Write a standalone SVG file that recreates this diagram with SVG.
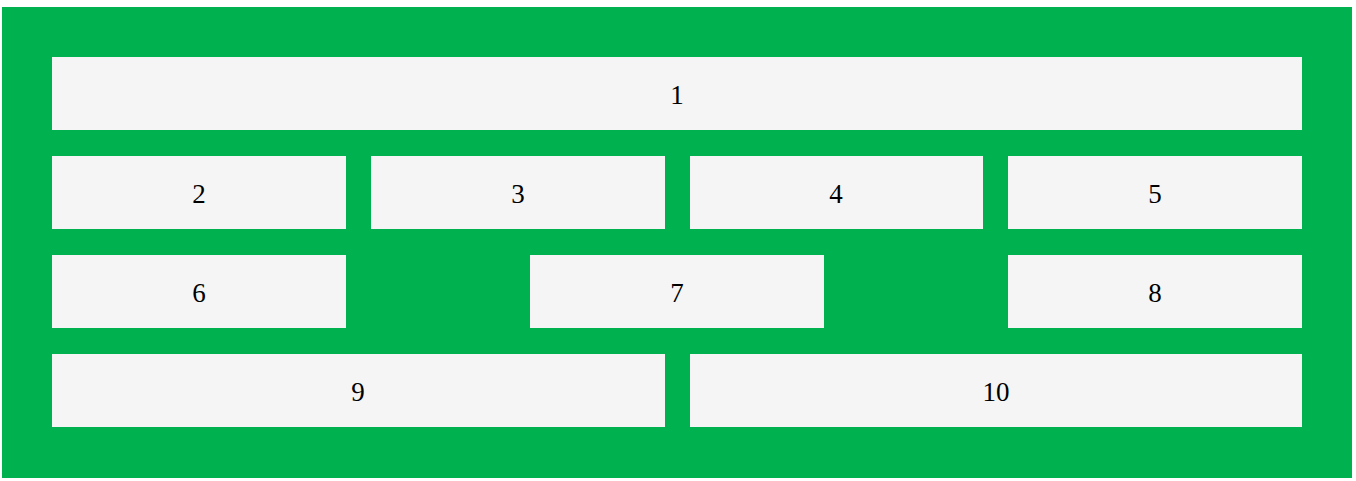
<svg xmlns="http://www.w3.org/2000/svg" width="1356" height="481" viewBox="0 0 1356 481">
<style>
.box{fill:#f5f5f5}
.lbl{font-family:"Liberation Serif","Times New Roman",serif;font-size:27px;fill:#000;text-anchor:middle}
</style>
<rect x="0" y="0" width="1356" height="481" fill="#ffffff"/>
<rect x="2" y="7" width="1350" height="471" fill="#00b14f"/>
<g id="n1"><rect class="box" x="52" y="57" width="1250" height="73"/><text class="lbl" x="677" y="104">1</text></g>
<g id="n2"><rect class="box" x="52" y="156" width="294" height="73"/><text class="lbl" x="199" y="203">2</text></g>
<g id="n3"><rect class="box" x="371" y="156" width="294" height="73"/><text class="lbl" x="518" y="203">3</text></g>
<g id="n4"><rect class="box" x="690" y="156" width="293" height="73"/><text class="lbl" x="836" y="203">4</text></g>
<g id="n5"><rect class="box" x="1008" y="156" width="294" height="73"/><text class="lbl" x="1155" y="203">5</text></g>
<g id="n6"><rect class="box" x="52" y="255" width="294" height="73"/><text class="lbl" x="199" y="302">6</text></g>
<g id="n7"><rect class="box" x="530" y="255" width="294" height="73"/><text class="lbl" x="677" y="302">7</text></g>
<g id="n8"><rect class="box" x="1008" y="255" width="294" height="73"/><text class="lbl" x="1155" y="302">8</text></g>
<g id="n9"><rect class="box" x="52" y="354" width="613" height="73"/><text class="lbl" x="358" y="401">9</text></g>
<g id="n10"><rect class="box" x="690" y="354" width="612" height="73"/><text class="lbl" x="996" y="401">10</text></g>
<g id="connectors"></g>
</svg>
